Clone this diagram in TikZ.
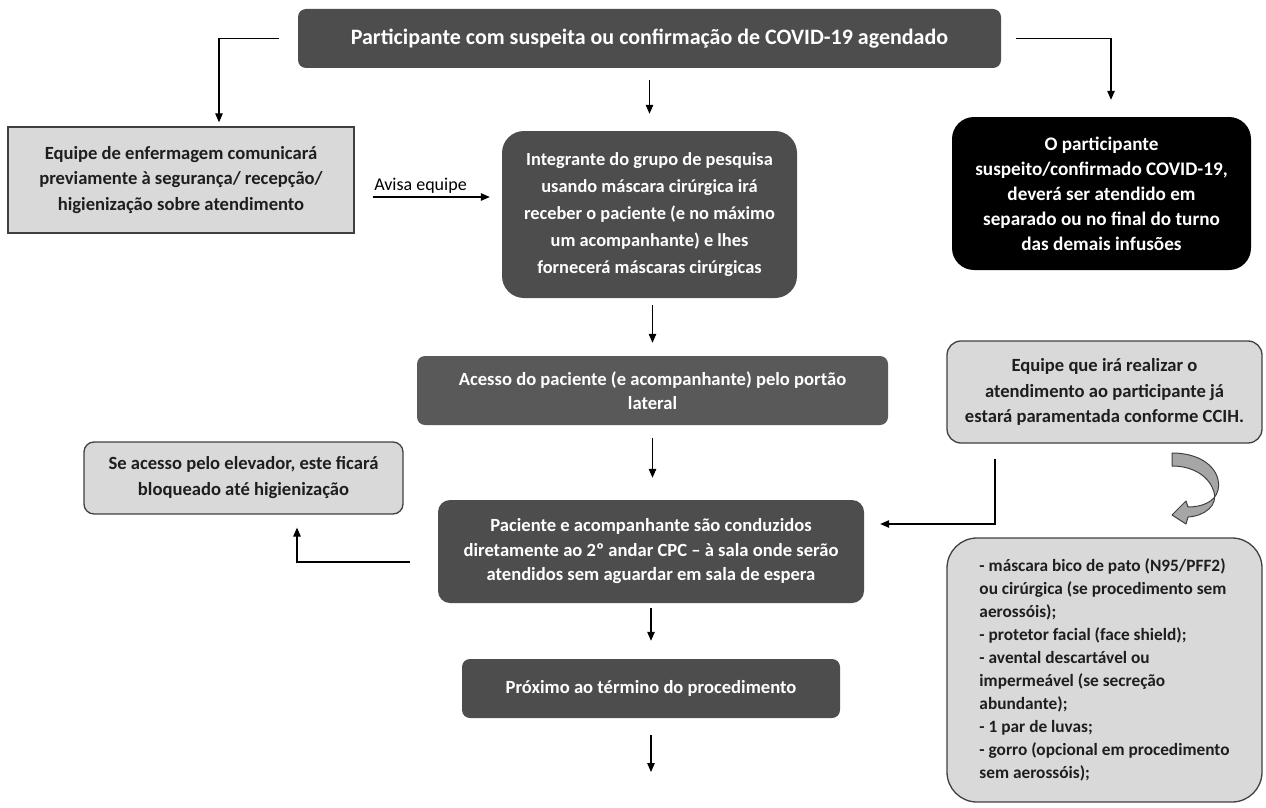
\documentclass[tikz,border=0pt]{standalone}
\usepackage{fontspec}
\setmainfont{Carlito}
\usetikzlibrary{arrows,arrows.meta}
\definecolor{boxdark}{RGB}{77,77,77}
\definecolor{boxmid}{RGB}{89,89,89}
\definecolor{boxlight}{RGB}{217,217,217}
\definecolor{boxline}{RGB}{64,64,64}
\definecolor{boxtext}{RGB}{30,30,30}
\definecolor{bendfill}{RGB}{166,166,166}

\begin{document}
\begin{tikzpicture}[x=1pt,y=-1pt]
\tikzstyle{every node}=[inner sep=2pt, align=center]
\tikzstyle{darkbox}=[fill=boxdark, text=white, rounded corners=8pt, font=\bfseries\fontsize{18.6}{25.5}\selectfont]
\tikzstyle{lightbox}=[fill=boxlight, draw=boxline, line width=1.3pt, text=boxtext, font=\bfseries\fontsize{18.6}{25.5}\selectfont]
\tikzstyle{conn}=[-{Triangle[length=9pt,width=7.5pt]}, line width=1.2pt]
\useasboundingbox (0,0) rectangle (1266,808);

% boxes
\draw (649.5,38.5) node (top) [darkbox, minimum width=703pt, minimum height=59pt, font=\bfseries\fontsize{22}{26}\selectfont] {Participante com suspeita ou confirmação de COVID-19 agendado};
\draw (181,180) node (enf) [lightbox, minimum width=346pt, minimum height=106pt] {Equipe de enfermagem comunicará\\previamente à segurança/ recepção/\\higienização sobre atendimento};
\draw (649.5,214.5) node (integ) [darkbox, rounded corners=22pt, minimum width=295pt, minimum height=167pt, font=\bfseries\fontsize{18.4}{27}\selectfont] {Integrante do grupo de pesquisa\\usando máscara cirúrgica irá\\receber o paciente (e no máximo\\um acompanhante) e lhes\\fornecerá máscaras cirúrgicas};
\draw (1101.5,193.5) node (sep) [darkbox, fill=black, rounded corners=22pt, minimum width=299pt, minimum height=153pt, font=\bfseries\fontsize{19.2}{25}\selectfont] {O participante\\suspeito/confirmado COVID-19,\\deverá ser atendido em\\separado ou no final do turno\\das demais infusões};
\draw (652.5,390.5) node (acesso) [darkbox, fill=boxmid, minimum width=471pt, minimum height=69pt, font=\bfseries\fontsize{18.6}{24}\selectfont] {Acesso do paciente (e acompanhante) pelo portão\\lateral};
\draw (1104.5,392) node (equipe) [lightbox, rounded corners=14pt, minimum width=315pt, minimum height=102pt] {Equipe que irá realizar o\\atendimento ao participante já\\estará paramentada conforme CCIH.};
\draw (243.5,478) node (elev) [lightbox, rounded corners=10pt, minimum width=319pt, minimum height=72pt, font=\bfseries\fontsize{18.6}{26}\selectfont] {Se acesso pelo elevador, este ficará\\bloqueado até higienização};
\draw (651,551.5) node (pac) [darkbox, rounded corners=12pt, minimum width=426pt, minimum height=103pt, font=\bfseries\fontsize{18.6}{24.5}\selectfont] {Paciente e acompanhante são conduzidos\\diretamente ao 2º andar CPC – à sala onde serão\\atendidos sem aguardar em sala de espera};
\draw (651,688.5) node (prox) [darkbox, minimum width=378pt, minimum height=59pt] {Próximo ao término do procedimento};
\draw (1104.5,670) node (epi) [lightbox, rounded corners=30pt, minimum width=315pt, minimum height=264pt, align=left, font=\bfseries\fontsize{17.3}{23}\selectfont] {- máscara bico de pato (N95/PFF2)\\ou cirúrgica (se procedimento sem\\aerossóis);\\- protetor facial (face shield);\\- avental descartável ou\\impermeável (se secreção\\abundante);\\- 1 par de luvas;\\- gorro (opcional em procedimento\\sem aerossóis);};
\coordinate (fim) at (651,772);

% connectors
\draw[conn] ([xshift=-19pt]top.west) -| ([xshift=38pt,yshift=4pt]enf.north);
\draw[conn] ([xshift=15pt]top.east) -| ([xshift=9.5pt,yshift=17pt]sep.north);
\draw[conn] ([yshift=-12pt]top.south) -- ([yshift=17pt]top.south |- integ.north);
\draw[conn] ([xshift=18pt,yshift=-17pt]enf.east) -- ([xshift=-12pt,yshift=17.5pt]integ.west)
  node[pos=0, anchor=south west, inner sep=1pt, yshift=2pt, font=\fontsize{18}{21}\selectfont] (avisa) {Avisa equipe};
\draw[conn] ([xshift=3pt,yshift=-7pt]integ.south) -- ([xshift=3pt,yshift=13pt]integ.south |- acesso.north);
\draw[conn] ([yshift=-13pt]acesso.south) -- ([yshift=22pt]acesso.south |- pac.north);
\draw[conn] ([yshift=-5pt]pac.south) -- ([yshift=18pt]pac.south |- prox.north);
\draw[conn] ([yshift=-17pt]prox.south) -- (fim);
\draw[conn] ([xshift=-109.5pt,yshift=-15pt]equipe.south) |- ([xshift=16pt,yshift=27.5pt]pac.east);
\draw[conn] ([xshift=-28pt,yshift=-10.5pt]pac.west) -| ([xshift=53.5pt,yshift=-13pt]elev.south);

% curved block arrow
\filldraw[fill=bendfill, draw=boxline, line width=1pt, line join=round]
  (1172,453) .. controls (1205,453) and (1222,472) .. (1218,490)
  .. controls (1215,503) and (1200,507) .. (1188,507)
  -- (1186,501) -- (1172,515) -- (1186,524) -- (1188,517)
  .. controls (1205,516) and (1218,505) .. (1214,492)
  .. controls (1210,478) and (1195,466) .. (1172,466) -- cycle;
\end{tikzpicture}
\end{document}
